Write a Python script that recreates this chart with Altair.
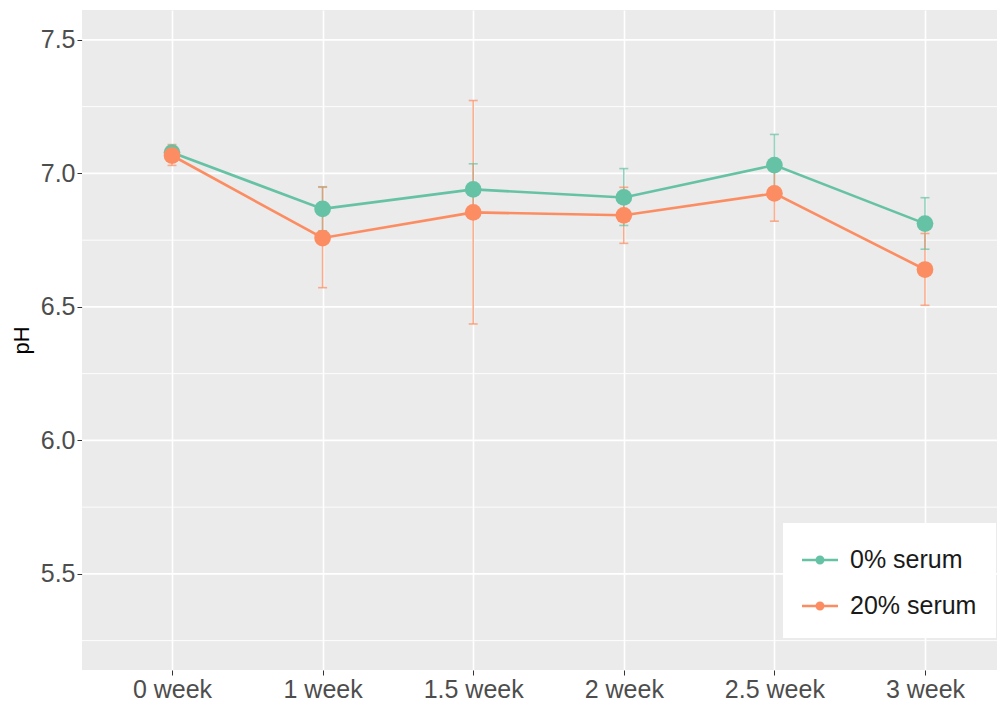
import altair as alt
import pandas as pd

weeks = ["0 week", "1 week", "1.5 week", "2 week", "2.5 week", "3 week"]
series = ["0% serum", "20% serum"]
ph_0 = [7.078, 6.867, 6.940, 6.910, 7.031, 6.812]
lo_0 = [7.055, 6.785, 6.848, 6.805, 6.915, 6.716]
hi_0 = [7.100, 6.950, 7.036, 7.018, 7.146, 6.909]
ph_20 = [7.067, 6.758, 6.854, 6.843, 6.925, 6.640]
lo_20 = [7.030, 6.572, 6.436, 6.738, 6.821, 6.506]
hi_20 = [7.108, 6.948, 7.273, 6.948, 7.027, 6.775]
y_ticks = [5.5, 6.0, 6.5, 7.0, 7.5]
y_minor = [5.25, 5.75, 6.25, 6.75, 7.25]
colors = ["#66C2A5", "#FC8D62"]

rows = []
for s, ph, lo, hi in [(series[0], ph_0, lo_0, hi_0), (series[1], ph_20, lo_20, hi_20)]:
    for w, p, l, h in zip(weeks, ph, lo, hi):
        rows.append({"week": w, "series": s, "ph": p, "lo": l, "hi": h})
df = pd.DataFrame(rows)
minor_df = pd.DataFrame({"v": y_minor})
major_df = pd.DataFrame({"v": y_ticks})

font = "Liberation Sans"
yscale = alt.Scale(domain=[5.14, 7.612], nice=False, zero=False)
xscale = alt.Scale(type="point", domain=weeks, range=[90, 843], padding=0)

legend = alt.Legend(
    title=None, orient="none", legendX=701, legendY=513,
    fillColor="white", padding=19, rowPadding=15,
    symbolType="M-1,-0.07H1V0.07H-1Z M0.25,0 A0.25,0.25 0 1,1 -0.25,0 A0.25,0.25 0 1,1 0.25,0Z",
    symbolSize=1296, symbolStrokeWidth=0, symbolOpacity=1,
    labelFont=font, labelFontSize=25, labelColor="#1a1a1a", labelOffset=12,
)
color = alt.Color("series:N", scale=alt.Scale(domain=series, range=colors), legend=legend)

x_enc = alt.X("week:N", scale=xscale, sort=weeks,
              axis=alt.Axis(title=None, labelAngle=0, labelFont=font, labelFontSize=25,
                            labelColor="#4D4D4D", tickColor="#333333", tickSize=5,
                            labelPadding=2, grid=True, gridColor="white", gridWidth=1.6,
                            domain=False))
y_axis = alt.Axis(title="pH", values=y_ticks, format=".1f", labelFont=font, labelFontSize=25,
                  labelColor="#4D4D4D", tickColor="#333333", tickSize=5, labelPadding=2,
                  titleFont=font, titleFontSize=22, titleColor="black", titleFontWeight="normal",
                  titlePadding=7, grid=False, domain=False)

base = alt.Chart(df)

minor = alt.Chart(minor_df).mark_rule(color="white", strokeWidth=0.9).encode(
    y=alt.Y("v:Q", scale=yscale, axis=y_axis))
major = alt.Chart(major_df).mark_rule(color="white", strokeWidth=1.8).encode(
    y=alt.Y("v:Q", scale=yscale))

bars = base.mark_rule(strokeWidth=1.6, opacity=0.7).encode(
    x=x_enc, y=alt.Y("lo:Q", scale=yscale), y2="hi:Q", color=color)
caps_hi = base.mark_tick(size=9, thickness=1.6, opacity=0.7).encode(
    x=x_enc, y=alt.Y("hi:Q", scale=yscale), color=color)
caps_lo = base.mark_tick(size=9, thickness=1.6, opacity=0.7).encode(
    x=x_enc, y=alt.Y("lo:Q", scale=yscale), color=color)
lines = base.mark_line(strokeWidth=2.6).encode(
    x=x_enc, y=alt.Y("ph:Q", scale=yscale), color=color, detail="series:N")
points = base.mark_circle(size=280, opacity=1).encode(
    x=x_enc, y=alt.Y("ph:Q", scale=yscale), color=color)

chart = alt.layer(minor, major, bars, caps_hi, caps_lo, lines, points).properties(
    width=915, height=660,
    padding={"left": 74, "top": 2, "right": 0, "bottom": 32},
    autosize=alt.AutoSizeParams(type="none"),
).configure_view(fill="#EBEBEB", stroke=None)

chart.save("out.html", embed_options={"renderer": "svg", "actions": False})
